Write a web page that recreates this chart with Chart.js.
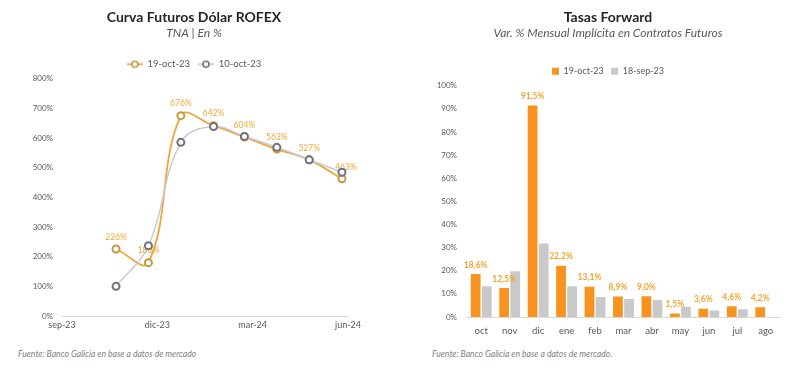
<!DOCTYPE html>
<html>
<head>
<meta charset="utf-8">
<script src="https://cdn.jsdelivr.net/npm/chart.js@4.4.0/dist/chart.umd.min.js"></script>
<style>
  body { margin: 0; background: #fff; width: 800px; height: 368px; overflow: hidden; position: relative; font-family: Lato, "Open Sans", sans-serif; }
  canvas { position: absolute; top: 0; }
  #curva { left: 0; }
  #forward { left: 400px; }
  .fuente { position: absolute; top: 349px; font-size: 8.6px; font-style: italic; color: #7f7f7f; white-space: nowrap; }
</style>
</head>
<body>
<canvas id="curva" width="400" height="345"></canvas>
<canvas id="forward" width="400" height="345"></canvas>
<div class="fuente" style="left:18px">Fuente: Banco Galicia en base a datos de mercado</div>
<div class="fuente" style="left:432px">Fuente: Banco Galicia en base a datos de mercado.</div>
<script>
// Curva futuros: posicion de cada contrato en meses desde sep-23
const plazosMeses = [1.70, 2.72, 3.74, 4.77, 5.74, 6.76, 7.78, 8.81];
const curva19oct = [226, 180, 676, 642, 604, 563, 527, 463];
const curva10oct = [100, 237, 586, 639, 606, 569, 527, 485];
const ticksCurva = ['sep-23', 'dic-23', 'mar-24', 'jun-24'];

// Tasas forward
const meses = ['oct', 'nov', 'dic', 'ene', 'feb', 'mar', 'abr', 'may', 'jun', 'jul', 'ago'];
const fwd19oct = [18.6, 12.5, 91.5, 22.2, 13.1, 8.9, 9.0, 1.5, 3.6, 4.6, 4.2];
const fwd18sep = [13.3, 19.8, 31.8, 13.3, 8.7, 7.8, 7.3, 4.4, 2.8, 3.3, null];

const FONT = 'Lato';
const naranja = '#EBA63C';
const naranjaBarra = '#F7931E';
const gris = '#C9CAD2';

Chart.defaults.font.family = FONT;
Chart.defaults.color = '#595959';

// icono de leyenda: linea con circulo
function iconoLinea(lineColor, pointColor) {
  const c = document.createElement('canvas');
  c.width = 16; c.height = 9;
  const ctx = c.getContext('2d');
  ctx.strokeStyle = lineColor; ctx.lineWidth = 1.8;
  ctx.beginPath(); ctx.moveTo(0, 4.5); ctx.lineTo(16, 4.5); ctx.stroke();
  ctx.fillStyle = '#fff'; ctx.strokeStyle = pointColor; ctx.lineWidth = 1.6;
  ctx.beginPath(); ctx.arc(8, 4.5, 3, 0, Math.PI * 2); ctx.fill(); ctx.stroke();
  return c;
}
const iconos = [iconoLinea(naranja, '#C9983E'), iconoLinea(gris, '#70707E')];

const etiquetasCurva = {
  id: 'etiquetasCurva',
  afterDatasetDraw(chart, args) {
    if (args.index !== 0) return;
    const ctx = chart.ctx;
    ctx.save();
    ctx.font = '8.5px ' + FONT;
    ctx.fillStyle = '#F0A832';
    ctx.textAlign = 'center';
    ctx.textBaseline = 'middle';
    args.meta.data.forEach((pt, i) => {
      ctx.fillText(curva19oct[i] + '%', pt.x + (i === 7 ? 4 : 0), pt.y - 12);
    });
    ctx.restore();
  }
};

new Chart(document.getElementById('curva'), {
  type: 'line',
  data: {
    datasets: [
      {
        label: '19-oct-23',
        data: plazosMeses.map((x, i) => ({ x, y: curva19oct[i] })),
        borderColor: naranja,
        borderWidth: 1.8,
        pointRadius: 3.5,
        pointBorderWidth: 2,
        pointBorderColor: '#C9983E',
        pointBackgroundColor: '#fff',
        tension: 0.4,
        order: 1
      },
      {
        label: '10-oct-23',
        data: plazosMeses.map((x, i) => ({ x, y: curva10oct[i] })),
        borderColor: gris,
        borderWidth: 1.5,
        pointRadius: 3.5,
        pointBorderWidth: 2,
        pointBorderColor: '#70707E',
        pointBackgroundColor: '#fff',
        tension: 0.4,
        order: 0
      }
    ]
  },
  options: {
    responsive: false,
    animation: false,
    layout: { padding: { left: 0, right: 12, top: 0, bottom: 0 } },
    plugins: {
      title: {
        display: true,
        text: 'Curva Futuros Dólar ROFEX',
        color: '#262626',
        font: { size: 14, weight: 'bold', lineHeight: 1.2 },
        padding: { top: 9, bottom: 0 }
      },
      subtitle: {
        display: true,
        text: 'TNA | En %',
        color: '#595959',
        font: { size: 12, style: 'italic', lineHeight: 1.2 },
        padding: { top: 0, bottom: 11.2 }
      },
      legend: {
        labels: {
          usePointStyle: true,
          pointStyleWidth: 16,
          font: { size: 9.5 },
          color: '#595959',
          padding: 8,
          sort: (a, b) => a.datasetIndex - b.datasetIndex,
          generateLabels(chart) {
            return Chart.defaults.plugins.legend.labels.generateLabels(chart)
              .map(l => Object.assign(l, { pointStyle: iconos[l.datasetIndex] }));
          }
        }
      },
      tooltip: { enabled: false }
    },
    scales: {
      x: {
        type: 'linear',
        min: 0,
        max: 9,
        afterBuildTicks: s => { s.ticks = ticksCurva.map((_, i) => ({ value: i * 3 })); },
        afterFit: s => { s.height = 29; },
        ticks: { callback: v => ticksCurva[v / 3], font: { size: 9 }, padding: 4, maxRotation: 0 },
        grid: { display: false, drawTicks: false },
        border: { display: true, color: '#D9D9D9' }
      },
      y: {
        min: 0,
        max: 800,
        afterFit: s => { s.width = 62; },
        ticks: { stepSize: 100, callback: v => v + '%', font: { size: 8 }, padding: 9 },
        grid: { display: false, drawTicks: false },
        border: { display: false }
      },
      yr: {
        position: 'right',
        display: true,
        afterFit: s => { s.width = 40; },
        ticks: { display: false },
        grid: { display: false, drawTicks: false },
        border: { display: false }
      }
    }
  },
  plugins: [etiquetasCurva]
});

const etiquetasForward = {
  id: 'etiquetasForward',
  afterDatasetsDraw(chart) {
    const ctx = chart.ctx;
    const meta = chart.getDatasetMeta(0);
    ctx.save();
    ctx.font = 'bold 8.5px ' + FONT;
    ctx.fillStyle = '#F4A531';
    ctx.textAlign = 'center';
    ctx.textBaseline = 'middle';
    meta.data.forEach((bar, i) => {
      ctx.fillText(fwd19oct[i].toFixed(1).replace('.', ',') + '%', bar.x, bar.y - 9);
    });
    ctx.restore();
  }
};

new Chart(document.getElementById('forward'), {
  type: 'bar',
  data: {
    labels: meses,
    datasets: [
      { label: '19-oct-23', data: fwd19oct, backgroundColor: naranjaBarra, categoryPercentage: 0.78, barPercentage: 0.88 },
      { label: '18-sep-23', data: fwd18sep, backgroundColor: '#C9C9C9', categoryPercentage: 0.78, barPercentage: 0.88 }
    ]
  },
  options: {
    responsive: false,
    animation: false,
    layout: { padding: { left: 36, right: 20, top: 0, bottom: 0 } },
    plugins: {
      title: {
        display: true,
        text: 'Tasas Forward',
        color: '#262626',
        font: { size: 14, weight: 'bold', lineHeight: 1.2 },
        padding: { top: 9, bottom: 0 }
      },
      subtitle: {
        display: true,
        text: 'Var. % Mensual Implícita en Contratos Futuros',
        color: '#595959',
        font: { size: 12, style: 'italic', lineHeight: 1.2 },
        padding: { top: 0, bottom: 19.1 }
      },
      legend: {
        labels: {
          boxWidth: 7,
          boxHeight: 7,
          font: { size: 9 },
          color: '#595959',
          padding: 7.5
        }
      },
      tooltip: { enabled: false }
    },
    scales: {
      x: {
        afterFit: s => { s.height = 28; },
        ticks: { font: { size: 9.5 }, padding: 8 },
        grid: { display: false, drawTicks: false },
        border: { display: true, color: '#D9D9D9' }
      },
      y: {
        min: 0,
        max: 100,
        afterFit: s => { s.width = 31; },
        ticks: { stepSize: 10, callback: v => v + '%', font: { size: 8 }, padding: 10 },
        grid: { display: false, drawTicks: false },
        border: { display: false }
      }
    }
  },
  plugins: [etiquetasForward]
});
</script>
</body>
</html>
